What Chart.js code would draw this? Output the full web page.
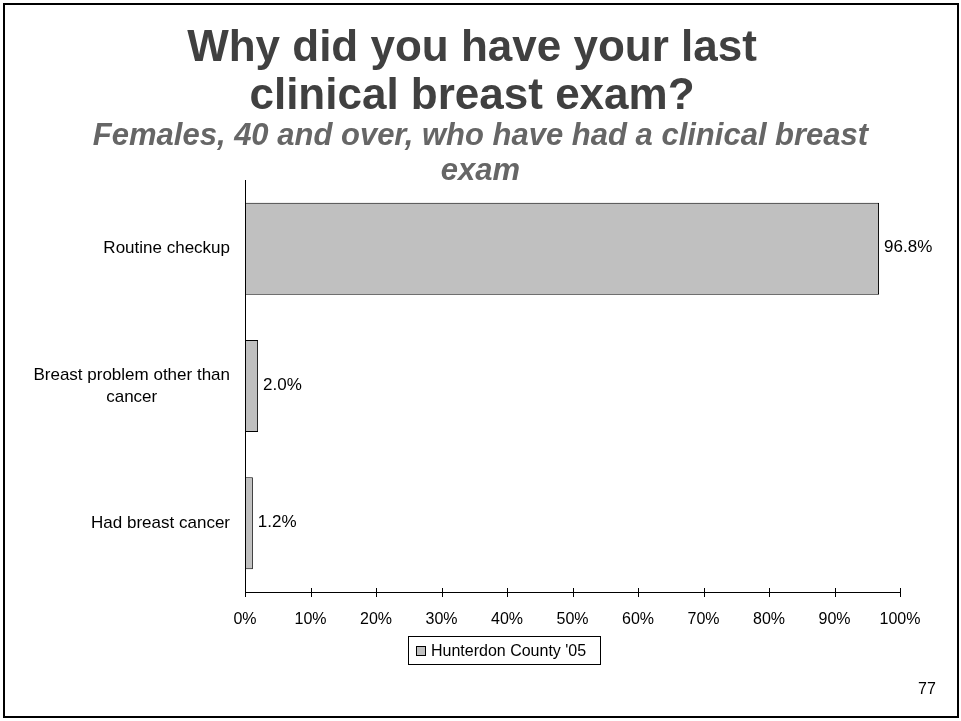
<!DOCTYPE html>
<html>
<head>
<meta charset="utf-8">
<script src="https://cdn.jsdelivr.net/npm/chart.js@4"></script>
<style>
  html, body { margin: 0; padding: 0; background: #fff; }
  body { width: 961px; height: 721px; position: relative; overflow: hidden; font-family: Arial, "Liberation Sans", sans-serif; }
  #frame { position: absolute; left: 3px; top: 3px; width: 952px; height: 711px; border: 2px solid #000; }
  #chart { position: absolute; left: 0; top: 0; }
  .title { position: absolute; left: 0; width: 944px; text-align: center; font-weight: bold; font-size: 44px; color: #404040; line-height: 48px; top: 22px; white-space: nowrap; }
  .subtitle { position: absolute; left: 0; width: 961px; text-align: center; font-weight: bold; font-style: italic; font-size: 31px; color: #666; line-height: 35px; top: 117px; white-space: nowrap; }
  #legend { position: absolute; left: 408px; top: 636px; width: 193px; height: 29px; box-sizing: border-box; padding-left: 7px; border: 1px solid #000; font-size: 16px; line-height: 27px; white-space: nowrap; }
  #legend .sw { display: inline-block; width: 8px; height: 8px; border: 1px solid #000; margin-right: 5px; vertical-align: 0px; }
  #page { position: absolute; left: 918px; top: 681px; font-size: 16px; line-height: 16px; }
</style>
</head>
<body>
<div id="frame"></div>
<canvas id="chart" width="961" height="721"></canvas>
<div class="title">Why did you have your last<br>clinical breast exam?</div>
<div class="subtitle">Females, 40 and over, who have had a clinical breast<br>exam</div>
<div id="legend"></div>
<div id="page">77</div>
<script>
const categories = [['Routine checkup'], ['Breast problem other than', 'cancer'], ['Had breast cancer']];
const seriesName = "Hunterdon County '05";
const values = [96.8, 2.0, 1.2];
const xTicks = [0, 10, 20, 30, 40, 50, 60, 70, 80, 90, 100];

const FONT = 'Arial, "Liberation Sans", sans-serif';
const barColor = '#c0c0c0';

// value labels right of each bar
const valueLabels = {
    id: 'valueLabels',
    afterDatasetsDraw(chart) {
        const ctx = chart.ctx;
        const meta = chart.getDatasetMeta(0);
        ctx.save();
        ctx.font = '17px ' + FONT;
        ctx.fillStyle = '#000';
        ctx.textAlign = 'left';
        ctx.textBaseline = 'middle';
        meta.data.forEach((bar, i) => {
            ctx.fillText(values[i].toFixed(1) + '%', bar.x + 5, bar.y - 1);
        });
        ctx.restore();
    }
};

// category labels: right-aligned block, lines centred within it
const categoryLabels = {
    id: 'categoryLabels',
    afterDraw(chart) {
        const ctx = chart.ctx;
        const y = chart.scales.y;
        const right = y.right - 15;
        ctx.save();
        ctx.font = '17px ' + FONT;
        ctx.fillStyle = '#000';
        ctx.textAlign = 'center';
        ctx.textBaseline = 'middle';
        categories.forEach((lines, i) => {
            const w = Math.max(...lines.map(l => ctx.measureText(l).width));
            const cx = right - w / 2;
            const py = y.getPixelForTick(i);
            const lh = 22;
            const top = py - (lines.length - 1) * lh / 2;
            lines.forEach((l, j) => ctx.fillText(l, cx, top + j * lh));
        });
        ctx.restore();
    }
};

// tick marks crossing the value axis
const crossTicks = {
    id: 'crossTicks',
    afterDraw(chart) {
        const ctx = chart.ctx;
        const x = chart.scales.x;
        const b = chart.chartArea.bottom;
        ctx.save();
        ctx.strokeStyle = '#000';
        ctx.lineWidth = 1;
        xTicks.forEach(v => {
            const px = Math.round(x.getPixelForValue(v)) + 0.5;
            ctx.beginPath();
            ctx.moveTo(px, b - 4);
            ctx.lineTo(px, b + 5);
            ctx.stroke();
        });
        ctx.restore();
    }
};

new Chart(document.getElementById('chart').getContext('2d'), {
    type: 'bar',
    data: {
        labels: categories,
        datasets: [{
            label: seriesName,
            data: values,
            backgroundColor: barColor,
            borderColor: '#000',
            borderWidth: 1,
            borderSkipped: false,
            categoryPercentage: 1,
            barPercentage: 0.67,
        }],
    },
    options: {
        indexAxis: 'y',
        responsive: false,
        animation: false,
        layout: { padding: { top: 180, right: 61, left: 0, bottom: 0 } },
        plugins: {
            legend: { display: false },
            tooltip: { enabled: false },
        },
        scales: {
            x: {
                min: 0,
                max: 100,
                afterBuildTicks(scale) { scale.ticks = xTicks.map(v => ({ value: v })); },
                afterFit(scale) { scale.height = 129; },
                grid: { display: false },
                border: { display: true, color: '#000', width: 1 },
                ticks: {
                    color: '#000',
                    font: { family: FONT, size: 16 },
                    padding: 10,
                    maxRotation: 0,
                    callback: v => v + '%',
                },
            },
            y: {
                afterFit(scale) { scale.width = 245; },
                grid: { display: false },
                border: { display: true, color: '#000', width: 1 },
                ticks: { display: false },
            },
        },
    },
    plugins: [valueLabels, categoryLabels, crossTicks],
});

const legend = document.getElementById('legend');
legend.innerHTML = '<span class="sw" style="background:' + barColor + '"></span>' + seriesName;
</script>
</body>
</html>
